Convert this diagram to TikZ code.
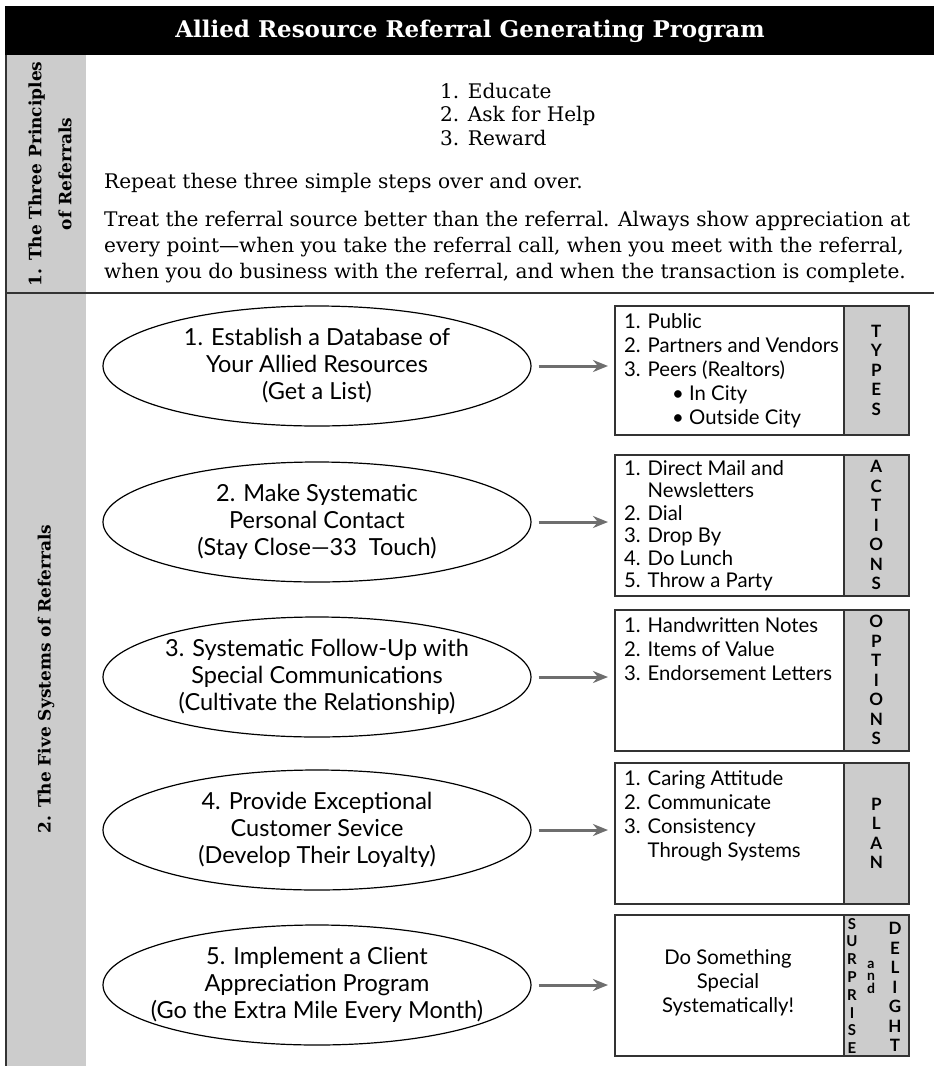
\documentclass[tikz,border=0pt]{standalone}
\usepackage{fontspec}
\newfontfamily\humfont{Lato}
\newfontfamily\slabfont{DejaVu Serif}
\usetikzlibrary{shapes.geometric,arrows.meta,positioning}

\definecolor{bandgray}{HTML}{CCCCCC}
\definecolor{arrowgray}{HTML}{6E6E6E}
\definecolor{rulegray}{HTML}{333333}

\tikzset{
  system/.style={draw, ellipse, line width=1.2pt, minimum width=428pt, minimum height=120pt,
    inner xsep=-40pt, inner ysep=-15pt, align=center, font=\humfont\fontsize{23.5}{27}\selectfont},
  listbox/.style={draw=rulegray, line width=1.6pt, anchor=north west, minimum width=294pt, inner sep=0pt},
  tagbox/.style={draw=rulegray, fill=bandgray, line width=1.6pt, anchor=north east, minimum width=65pt,
    inner sep=0pt, align=center, font=\humfont\bfseries\fontsize{17}{19.5}\selectfont},
  listtext/.style={anchor=north west, inner sep=0pt, align=left, font=\humfont\fontsize{20.3}{24}\selectfont},
  prose/.style={anchor=north west, inner sep=0pt, align=left, font=\slabfont\fontsize{20.1}{26}\selectfont},
  sidelabel/.style={rotate=90, align=center, font=\slabfont\bfseries\fontsize{17}{30}\selectfont},
  feeds/.style={draw=arrowgray, line width=3pt, -{Stealth[length=15pt,width=12pt]}, shorten <=7pt, shorten >=6pt}
}

\begin{document}
\begin{tikzpicture}[x=1pt, y=-1pt]
\useasboundingbox (0,0) rectangle (934,1066);

\fill[black] (5,6) rectangle (934,55);
\node[text=white, font=\slabfont\bfseries\fontsize{23}{26}\selectfont] (title) at (470,31) {Allied Resource Referral Generating Program};

\fill[bandgray] (5,55) rectangle (86,1066);
\draw[rulegray, line width=1.5pt] (6,55) -- (6,1066);
\draw[rulegray, line width=2.5pt] (5,293) -- (934,293);

\node[sidelabel] (principles) at (50,174) {1. The Three Principles\\of Referrals};
\node[sidelabel] (systems) at (46,679) {2. The Five Systems of Referrals};

\node[prose, font=\slabfont\fontsize{20.1}{23.5}\selectfont] (steps) at (440,83)
  {1. Educate\\2. Ask for Help\\3. Reward};
\node[prose] (repeat) at (104,173)
  {Repeat these three simple steps over and over.};
\node[prose] (treat) at (104,211)
  {Treat the referral source better than the referral. Always show appreciation at\\
   every point—when you take the referral call, when you meet with the referral,\\
   when you do business with the referral, and when the transaction is complete.};

\node[system] (database) at (317,366) {1. Establish a Database of\\Your Allied Resources\\(Get a List)};
\node[listbox, minimum height=129pt] (types) at (614,305) {};
\node[tagbox, minimum height=129pt] (typestag) at (types.north east) {T\\Y\\P\\E\\S};
\node[listtext] (typeslist) at ([xshift=10pt, yshift=-8pt]types.north west)
  {1. Public\\2. Partners and Vendors\\3. Peers (Realtors)\\
   \hspace*{48pt}• In City\\\hspace*{48pt}• Outside City};
\draw[feeds] (database.east) -- (database.east -| types.west);

\node[system] (contact) at (317,522) {2. Make Systematic\\Personal Contact\\(Stay Close—33\ \ Touch)};
\node[listbox, minimum height=141pt] (actions) at (614,454) {};
\node[tagbox, minimum height=141pt] (actionstag) at (actions.north east) {A\\C\\T\\I\\O\\N\\S};
\node[listtext, font=\humfont\fontsize{20.3}{22.5}\selectfont] (actionslist) at ([xshift=10pt, yshift=-6pt]actions.north west)
  {1. Direct Mail and\\\phantom{1. }Newsletters\\2. Dial\\3. Drop By\\4. Do Lunch\\5. Throw a Party};
\draw[feeds] (contact.east) -- (contact.east -| actions.west);

\node[system] (followup) at (317,677) {3. Systematic Follow-Up with\\Special Communications\\(Cultivate the Relationship)};
\node[listbox, minimum height=141pt] (options) at (614,609) {};
\node[tagbox, minimum height=141pt] (optionstag) at (options.north east) {O\\P\\T\\I\\O\\N\\S};
\node[listtext] (optionslist) at ([xshift=10pt, yshift=-8pt]options.north west)
  {1. Handwritten Notes\\2. Items of Value\\3. Endorsement Letters};
\draw[feeds] (followup.east) -- (followup.east -| options.west);

\node[system] (service) at (317,830) {4. Provide Exceptional\\Customer Sevice\\(Develop Their Loyalty)};
\node[listbox, minimum height=141pt] (plan) at (614,762) {};
\node[tagbox, minimum height=141pt] (plantag) at (plan.north east) {P\\L\\A\\N};
\node[listtext] (planlist) at ([xshift=10pt, yshift=-8pt]plan.north west)
  {1. Caring Attitude\\2. Communicate\\3. Consistency\\\phantom{3. }Through Systems};
\draw[feeds] (service.east) -- (service.east -| plan.west);

\node[system] (appreciation) at (317,985) {5. Implement a Client\\Appreciation Program\\(Go the Extra Mile Every Month)};
\node[listbox, minimum height=141pt] (special) at (614,914) {};
\node[tagbox, minimum height=141pt] (specialtag) at (special.north east) {};
\node[align=center, inner sep=0pt, font=\humfont\fontsize{20.3}{24}\selectfont] (speciallist) at (728,983)
  {Do Something\\Special\\Systematically!};
\node[align=center, inner sep=0pt, font=\humfont\bfseries\fontsize{15}{17.8}\selectfont] (surprise) at (852,986)
  {S\\U\\R\\P\\R\\I\\S\\E};
\node[align=center, inner sep=0pt, font=\humfont\bfseries\fontsize{14}{12.5}\selectfont] (andword) at (871,977)
  {a\\n\\d};
\node[align=center, inner sep=0pt, font=\humfont\bfseries\fontsize{17}{19.5}\selectfont] (delight) at (895,987)
  {D\\E\\L\\I\\G\\H\\T};
\draw[feeds] (appreciation.east) -- (appreciation.east -| special.west);

\end{tikzpicture}
\end{document}
